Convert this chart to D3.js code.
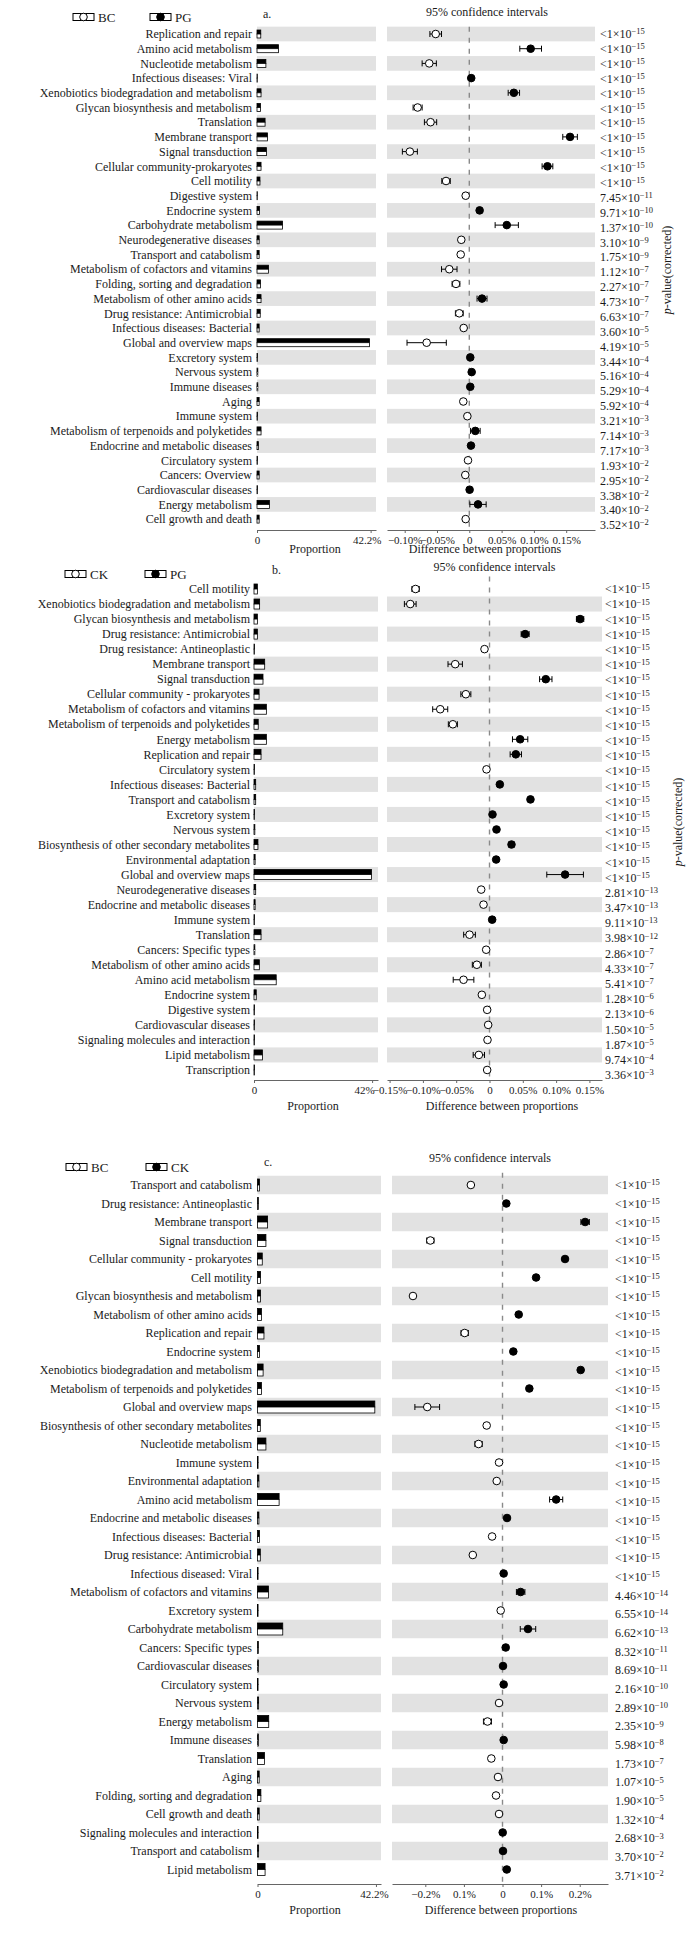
<!DOCTYPE html>
<html><head><meta charset="utf-8">
<script src="https://cdn.jsdelivr.net/npm/d3@7"></script>
<style>
body{margin:0;background:#fff}
svg{display:block}
text{font-family:"Liberation Serif","Times New Roman",serif;fill:#1a1a1a}
</style>
</head><body><svg id="chart" width="686" height="1944"></svg>
<script>
// ---------------- Panel a : BC vs PG ----------------
const catsA = ["Replication and repair","Amino acid metabolism","Nucleotide metabolism","Infectious diseases: Viral","Xenobiotics biodegradation and metabolism","Glycan biosynthesis and metabolism","Translation","Membrane transport","Signal transduction","Cellular community-prokaryotes","Cell motility","Digestive system","Endocrine system","Carbohydrate metabolism","Neurodegenerative diseases","Transport and catabolism","Metabolism of cofactors and vitamins","Folding, sorting and degradation","Metabolism of other amino acids","Drug resistance: Antimicrobial","Infectious diseases: Bacterial","Global and overview maps","Excretory system","Nervous system","Immune diseases","Aging","Immune system","Metabolism of terpenoids and polyketides","Endocrine and metabolic diseases","Circulatory system","Cancers: Overview","Cardiovascular diseases","Energy metabolism","Cell growth and death"];
const propPG_A = [1.4,8.0,3.3,0.1,1.5,1.3,3.0,3.9,3.5,1.5,1.1,0.1,0.9,9.5,0.8,0.8,4.3,1.3,1.5,1.2,0.8,41.8,0.2,0.3,0.3,0.8,0.2,1.5,0.5,0.2,0.8,0.2,4.6,0.8];
const propBC_A = [1.4,8.0,3.3,0.1,1.5,1.3,3.0,3.9,3.5,1.5,1.1,0.1,0.9,9.5,0.8,0.8,4.3,1.3,1.5,1.2,0.8,41.8,0.2,0.3,0.3,0.8,0.2,1.5,0.5,0.2,0.8,0.2,4.6,0.8];
const diffA = [-0.052,0.095,-0.062,0.003,0.069,-0.080,-0.060,0.156,-0.092,0.121,-0.036,-0.0056,0.016,0.058,-0.0124,-0.0133,-0.031,-0.0206,0.0197,-0.0155,-0.0087,-0.066,0.0015,0.0037,0.0015,-0.0093,-0.003,0.0093,0.0026,-0.002,-0.0062,0.0005,0.0135,-0.0056];
const ciA = [0.009,0.0168,0.011,0.001,0.0088,0.007,0.0095,0.0113,0.0116,0.0083,0.0065,0.002,0.003,0.018,0.002,0.002,0.012,0.006,0.0077,0.006,0.002,0.0304,0.001,0.002,0.001,0.002,0.001,0.0075,0.002,0.001,0.003,0.001,0.0126,0.002];
const pvalA = ["<1×10^-15","<1×10^-15","<1×10^-15","<1×10^-15","<1×10^-15","<1×10^-15","<1×10^-15","<1×10^-15","<1×10^-15","<1×10^-15","<1×10^-15","7.45×10^-11","9.71×10^-10","1.37×10^-10","3.10×10^-9","1.75×10^-9","1.12×10^-7","2.27×10^-7","4.73×10^-7","6.63×10^-7","3.60×10^-5","4.19×10^-5","3.44×10^-4","5.16×10^-4","5.29×10^-4","5.92×10^-4","3.21×10^-3","7.14×10^-3","7.17×10^-3","1.93×10^-2","2.95×10^-2","3.38×10^-2","3.40×10^-2","3.52×10^-2"];
const diffTicksA = [-0.10,-0.05,0,0.05,0.10,0.15];
const diffTickLabelsA = ["−0.10%","−0.05%","0","0.05%","0.10%","0.15%"];
const barTicksA = [0,42.2];
const barTickLabelsA = ["0","42.2%"];

// ---------------- Panel b : CK vs PG ----------------
const catsB = ["Cell motility","Xenobiotics biodegradation and metabolism","Glycan biosynthesis and metabolism","Drug resistance: Antimicrobial","Drug resistance: Antineoplastic","Membrane transport","Signal transduction","Cellular community - prokaryotes","Metabolism of cofactors and vitamins","Metabolism of terpenoids and polyketides","Energy metabolism","Replication and repair","Circulatory system","Infectious diseases: Bacterial","Transport and catabolism","Excretory system","Nervous system","Biosynthesis of other secondary metabolites","Environmental adaptation","Global and overview maps","Neurodegenerative diseases","Endocrine and metabolic diseases","Immune system","Translation","Cancers: Specific types","Metabolism of other amino acids","Amino acid metabolism","Endocrine system","Digestive system","Cardiovascular diseases","Signaling molecules and interaction","Lipid metabolism","Transcription"];
const propPG_B = [1.2,2.0,1.2,1.2,0.2,3.8,3.2,1.8,4.4,1.5,4.4,2.5,0.2,0.6,0.6,0.2,0.3,1.4,0.4,41.8,0.6,0.4,0.2,2.5,0.3,1.9,7.9,0.8,0.2,0.2,0.2,3.0,0.2];
const propCK_B = [1.2,2.0,1.2,1.2,0.2,3.8,3.2,1.8,4.4,1.5,4.4,2.5,0.2,0.6,0.6,0.2,0.3,1.4,0.4,41.8,0.6,0.4,0.2,2.5,0.3,1.9,7.9,0.8,0.2,0.2,0.2,3.0,0.2];
const diffB = [-0.111,-0.119,0.136,0.0535,-0.0075,-0.0515,0.0845,-0.0355,-0.074,-0.055,0.046,0.0395,-0.0045,0.0155,0.0615,0.0045,0.0105,0.033,0.010,0.1135,-0.0125,-0.009,0.004,-0.030,-0.005,-0.019,-0.039,-0.0115,-0.0035,-0.002,-0.003,-0.016,-0.0035];
const ciB = [0.0055,0.0088,0.0055,0.006,0.002,0.0108,0.0093,0.0075,0.0113,0.0068,0.0115,0.0085,0.001,0.002,0.003,0.001,0.002,0.004,0.002,0.0275,0.002,0.002,0.001,0.0088,0.002,0.0068,0.0155,0.003,0.001,0.001,0.001,0.0085,0.001];
const pvalB = ["<1×10^-15","<1×10^-15","<1×10^-15","<1×10^-15","<1×10^-15","<1×10^-15","<1×10^-15","<1×10^-15","<1×10^-15","<1×10^-15","<1×10^-15","<1×10^-15","<1×10^-15","<1×10^-15","<1×10^-15","<1×10^-15","<1×10^-15","<1×10^-15","<1×10^-15","<1×10^-15","2.81×10^-13","3.47×10^-13","9.11×10^-13","3.98×10^-12","2.86×10^-7","4.33×10^-7","5.41×10^-7","1.28×10^-6","2.13×10^-6","1.50×10^-5","1.87×10^-5","9.74×10^-4","3.36×10^-3"];
const diffTicksB = [-0.15,-0.10,-0.05,0,0.05,0.10,0.15];
const diffTickLabelsB = ["−0.15%","−0.10%","−0.05%","0","0.05%","0.10%","0.15%"];
const barTicksB = [0,42];
const barTickLabelsB = ["0","42%"];

// ---------------- Panel c : BC vs CK ----------------
const catsC = ["Transport and catabolism","Drug resistance: Antineoplastic","Membrane transport","Signal transduction","Cellular community - prokaryotes","Cell motility","Glycan biosynthesis and metabolism","Metabolism of other amino acids","Replication and repair","Endocrine system","Xenobiotics biodegradation and metabolism","Metabolism of terpenoids and polyketides","Global and overview maps","Biosynthesis of other secondary metabolites","Nucleotide metabolism","Immune system","Environmental adaptation","Amino acid metabolism","Endocrine and metabolic diseases","Infectious diseases: Bacterial","Drug resistance: Antimicrobial","Infectious diseased: Viral","Metabolism of cofactors and vitamins","Excretory system","Carbohydrate metabolism","Cancers: Specific types","Cardiovascular diseases","Circulatory system","Nervous system","Energy metabolism","Immune diseases","Translation","Aging","Folding, sorting and degradation","Cell growth and death","Signaling molecules and interaction","Transport and catabolism","Lipid metabolism"];
const propCK_C = [0.7,0.3,3.6,3.0,1.7,1.1,1.1,1.4,2.3,0.7,2.0,1.4,41.8,1.0,3.0,0.2,0.5,7.7,0.5,0.7,1.0,0.2,3.9,0.2,9.0,0.3,0.3,0.2,0.4,4.0,0.3,2.5,0.6,1.2,0.6,0.2,0.4,2.7];
const propBC_C = [0.7,0.3,3.6,3.0,1.7,1.1,1.1,1.4,2.3,0.7,2.0,1.4,41.8,1.0,3.0,0.2,0.5,7.7,0.5,0.7,1.0,0.2,3.9,0.2,9.0,0.3,0.3,0.2,0.4,4.0,0.3,2.5,0.6,1.2,0.6,0.2,0.4,2.7];
const diffC = [-0.082,0.0099,0.214,-0.187,0.162,0.087,-0.232,0.042,-0.098,0.028,0.2025,0.0695,-0.195,-0.041,-0.062,-0.009,-0.015,0.139,0.0117,-0.027,-0.077,0.003,0.047,-0.0047,0.066,0.0083,0.0013,0.003,-0.009,-0.039,0.003,-0.029,-0.0117,-0.0168,-0.009,0.0005,0.0013,0.011];
const ciC = [0.004,0.003,0.011,0.0095,0.005,0.004,0.004,0.004,0.0095,0.003,0.006,0.004,0.032,0.003,0.0095,0.002,0.003,0.017,0.003,0.003,0.004,0.002,0.011,0.002,0.020,0.002,0.002,0.002,0.002,0.0104,0.002,0.004,0.002,0.003,0.002,0.002,0.002,0.004];
const pvalC = ["<1×10^-15","<1×10^-15","<1×10^-15","<1×10^-15","<1×10^-15","<1×10^-15","<1×10^-15","<1×10^-15","<1×10^-15","<1×10^-15","<1×10^-15","<1×10^-15","<1×10^-15","<1×10^-15","<1×10^-15","<1×10^-15","<1×10^-15","<1×10^-15","<1×10^-15","<1×10^-15","<1×10^-15","<1×10^-15","4.46×10^-14","6.55×10^-14","6.62×10^-13","8.32×10^-11","8.69×10^-11","2.16×10^-10","2.89×10^-10","2.35×10^-9","5.98×10^-8","1.73×10^-7","1.07×10^-5","1.90×10^-5","1.32×10^-4","2.68×10^-3","3.70×10^-2","3.71×10^-2"];
const diffTicksC = [-0.2,-0.1,0,0.1,0.2];
const diffTickLabelsC = ["−0.2%","0.1%","0","0.1%","0.2%"];
const barTicksC = [0,42.2];
const barTickLabelsC = ["0","42.2%"];

// ---------------- drawing ----------------
const svg = d3.select("#chart");
const SHADE = "#e2e2e2";

function drawPanel(cfg){
  const g = svg.append("g");
  const n = cfg.cats.length;
  const y = d3.scaleBand().domain(d3.range(n))
    .range([cfg.y0 - cfg.step/2, cfg.y0 + (n-1)*cfg.step + cfg.step/2]).padding(0);
  const bw = y.bandwidth();
  const cy = i => y(i) + bw/2;
  const xb = d3.scaleLinear().domain([0, cfg.barMax]).range(cfg.barRange);
  const xd = d3.scaleLinear().domain(cfg.diffDomain).range(cfg.diffRange);
  const py = d3.scaleLinear().domain([0, n-1]).range([cfg.y0, cfg.y0 + (n-1)*cfg.step + cfg.pDrift]);
  const rows = d3.range(n);
  const shaded = rows.filter(i => i % 2 === cfg.shadeParity);

  // legend
  const lg = g.append("g");
  cfg.legend.forEach(L => {
    lg.append("rect").attr("x", L.x).attr("y", cfg.legendY - 3.5).attr("width", 21).attr("height", 7)
      .attr("fill", "#fff").attr("stroke", "#000").attr("stroke-width", 1);
    lg.append("circle").attr("cx", L.x + 10.5).attr("cy", cfg.legendY).attr("r", 3.8)
      .attr("fill", L.fill).attr("stroke", "#000").attr("stroke-width", 1);
    lg.append("text").attr("x", L.x + 25).attr("y", cfg.legendY).attr("dy", "0.35em")
      .attr("font-size", 13).text(L.name);
  });
  g.append("text").attr("x", cfg.letterX).attr("y", cfg.letterY).attr("dy","0.35em")
    .attr("font-size", 12).text(cfg.letter);
  g.append("text").attr("x", (cfg.diffRange[0]+cfg.diffRange[1])/2 + cfg.titleDx).attr("y", cfg.titleY).attr("dy","0.35em")
    .attr("text-anchor","middle").attr("font-size", 12).text("95% confidence intervals");

  // shaded bands
  g.append("g").selectAll("rect").data(shaded).join("rect")
    .attr("x", cfg.barRange[0]).attr("y", d => y(d)).attr("width", cfg.barRange[1]-cfg.barRange[0])
    .attr("height", bw).attr("fill", SHADE);
  g.append("g").selectAll("rect").data(shaded).join("rect")
    .attr("x", cfg.diffRange[0]).attr("y", d => y(d)).attr("width", cfg.diffRange[1]-cfg.diffRange[0])
    .attr("height", bw).attr("fill", SHADE);

  // category labels
  g.append("g").selectAll("text").data(rows).join("text")
    .attr("x", cfg.labelX).attr("y", d => cy(d)).attr("dy","0.35em")
    .attr("text-anchor","end").attr("font-size", 12).text(d => cfg.cats[d]);

  // bars: top = group 2 (black), bottom = group 1 (white)
  const hb = cfg.barH/2;
  g.append("g").selectAll("rect").data(rows).join("rect")
    .attr("x", xb(0)).attr("y", d => cy(d) - hb).attr("width", d => Math.max(0.3, xb(cfg.g2[d]) - xb(0)))
    .attr("height", hb).attr("fill", "#000").attr("stroke","#000").attr("stroke-width",0.8);
  g.append("g").selectAll("rect").data(rows).join("rect")
    .attr("x", xb(0)).attr("y", d => cy(d)).attr("width", d => Math.max(0.3, xb(cfg.g1[d]) - xb(0)))
    .attr("height", hb).attr("fill", "#fff").attr("stroke","#000").attr("stroke-width",0.8);

  // zero dashed line
  g.append("line").attr("x1", xd(0)).attr("x2", xd(0))
    .attr("y1", cfg.y0 - cfg.step/2 - cfg.dashTop).attr("y2", cfg.axisY)
    .attr("stroke","#8a8a8a").attr("stroke-width",1.4).attr("stroke-dasharray","5,6");

  // error bars
  const eb = g.append("g").selectAll("g").data(rows).join("g");
  eb.append("line").attr("x1", d => xd(cfg.diff[d]-cfg.ci[d])).attr("x2", d => xd(cfg.diff[d]+cfg.ci[d]))
    .attr("y1", d => cy(d)).attr("y2", d => cy(d)).attr("stroke","#000").attr("stroke-width",1);
  eb.append("line").attr("x1", d => xd(cfg.diff[d]-cfg.ci[d])).attr("x2", d => xd(cfg.diff[d]-cfg.ci[d]))
    .attr("y1", d => cy(d)-3).attr("y2", d => cy(d)+3).attr("stroke","#000").attr("stroke-width",1);
  eb.append("line").attr("x1", d => xd(cfg.diff[d]+cfg.ci[d])).attr("x2", d => xd(cfg.diff[d]+cfg.ci[d]))
    .attr("y1", d => cy(d)-3).attr("y2", d => cy(d)+3).attr("stroke","#000").attr("stroke-width",1);
  eb.append("circle").attr("cx", d => xd(cfg.diff[d])).attr("cy", d => cy(d)).attr("r", cfg.r)
    .attr("fill", d => cfg.diff[d] > 0 ? "#000" : "#fff").attr("stroke","#000").attr("stroke-width",1);

  // p-values
  const pt = g.append("g").selectAll("text").data(rows).join("text")
    .attr("x", cfg.pX).attr("y", d => py(d)).attr("dy","0.35em").attr("font-size", 12);
  pt.each(function(d){
    const parts = cfg.pval[d].split("^");
    const t = d3.select(this);
    t.append("tspan").text(parts[0]);
    t.append("tspan").attr("dy", "-0.45em").attr("font-size", 8.5).text(parts[1].replace("-", "−"));
  });

  // axes
  const axB = d3.axisBottom(xb).tickValues(cfg.barTicks).tickFormat((d,i) => cfg.barTickLabels[i])
    .tickSize(3).tickSizeOuter(0).tickPadding(3);
  const axD = d3.axisBottom(xd).tickValues(cfg.diffTicks).tickFormat((d,i) => cfg.diffTickLabels[i])
    .tickSize(3).tickSizeOuter(0).tickPadding(3);
  [axB, axD].forEach((ax, k) => {
    const a = g.append("g").attr("transform", `translate(0,${cfg.axisY})`).call(ax);
    a.selectAll("path,line").attr("stroke","#666");
    a.selectAll("text").attr("font-family","Liberation Serif, Times New Roman, serif")
      .attr("font-size", 11).attr("fill","#1a1a1a");
    if (k === 0) a.selectAll(".tick text").filter((d,i) => i === cfg.barTicks.length - 1).attr("dx", cfg.barLabelDx);
  });
  g.append("text").attr("x", cfg.propLabelX).attr("y", cfg.axisY + cfg.axisTitleDy).attr("dy","0.35em")
    .attr("text-anchor","middle").attr("font-size", 12).text("Proportion");
  g.append("text").attr("x", cfg.diffLabelX).attr("y", cfg.axisY + cfg.axisTitleDy).attr("dy","0.35em")
    .attr("text-anchor","middle").attr("font-size", 12).text("Difference between proportions");

  if (cfg.pTitle) {
    const pl = g.append("text").attr("transform", `translate(${cfg.pTitle.x},${cfg.pTitle.y}) rotate(-90)`)
      .attr("text-anchor","middle").attr("dy","0.35em").attr("font-size", 12);
    pl.append("tspan").attr("font-style","italic").text("p");
    pl.append("tspan").text("-value(corrected)");
  }
}

drawPanel({
  cats: catsA, g1: propBC_A, g2: propPG_A, diff: diffA, ci: ciA, pval: pvalA,
  barTicks: barTicksA, barTickLabels: barTickLabelsA, diffTicks: diffTicksA, diffTickLabels: diffTickLabelsA,
  y0: 34, step: 14.7, shadeParity: 0, pDrift: 6,
  barRange: [257, 376], barMax: 44.2, diffRange: [387, 595], diffDomain: [-0.1274, 0.1946],
  labelX: 252, barH: 8, r: 3.8, axisY: 530, axisTitleDy: 19, pX: 600, dashTop: 0, barLabelDx: -4,
  legendY: 17, legend: [{x: 73, name: "BC", fill: "#fff"}, {x: 150, name: "PG", fill: "#000"}],
  letter: "a.", letterX: 263, letterY: 14, titleY: 12, titleDx: -4,
  propLabelX: 315, diffLabelX: 485, pTitle: {x: 667, y: 270}
});
drawPanel({
  cats: catsB, g1: propCK_B, g2: propPG_B, diff: diffB, ci: ciB, pval: pvalB,
  barTicks: barTicksB, barTickLabels: barTickLabelsB, diffTicks: diffTicksB, diffTickLabels: diffTickLabelsB,
  y0: 589, step: 15.03, shadeParity: 1, pDrift: 5,
  barRange: [254, 378], barMax: 44.1, diffRange: [387, 602], diffDomain: [-0.1539, 0.1689],
  labelX: 250, barH: 10, r: 3.8, axisY: 1080, axisTitleDy: 26, pX: 605, dashTop: 5, barLabelDx: -8,
  legendY: 574, legend: [{x: 65, name: "CK", fill: "#fff"}, {x: 145, name: "PG", fill: "#000"}],
  letter: "b.", letterX: 272, letterY: 570, titleY: 567, titleDx: 0,
  propLabelX: 313, diffLabelX: 502, pTitle: {x: 678, y: 822}
});
drawPanel({
  cats: catsC, g1: propBC_C, g2: propCK_C, diff: diffC, ci: ciC, pval: pvalC,
  barTicks: barTicksC, barTickLabels: barTickLabelsC, diffTicks: diffTicksC, diffTickLabels: diffTickLabelsC,
  y0: 1185, step: 18.5, shadeParity: 0, pDrift: 6,
  barRange: [257.5, 381], barMax: 44.0, diffRange: [392, 608], diffDomain: [-0.2863, 0.2733],
  labelX: 252, barH: 12, r: 3.8, axisY: 1884, axisTitleDy: 26, pX: 615, dashTop: 3, barLabelDx: -2,
  legendY: 1167, legend: [{x: 66, name: "BC", fill: "#fff"}, {x: 146, name: "CK", fill: "#000"}],
  letter: "c.", letterX: 264, letterY: 1162, titleY: 1158, titleDx: -10,
  propLabelX: 315, diffLabelX: 501, pTitle: null
});
</script>
</body></html>
